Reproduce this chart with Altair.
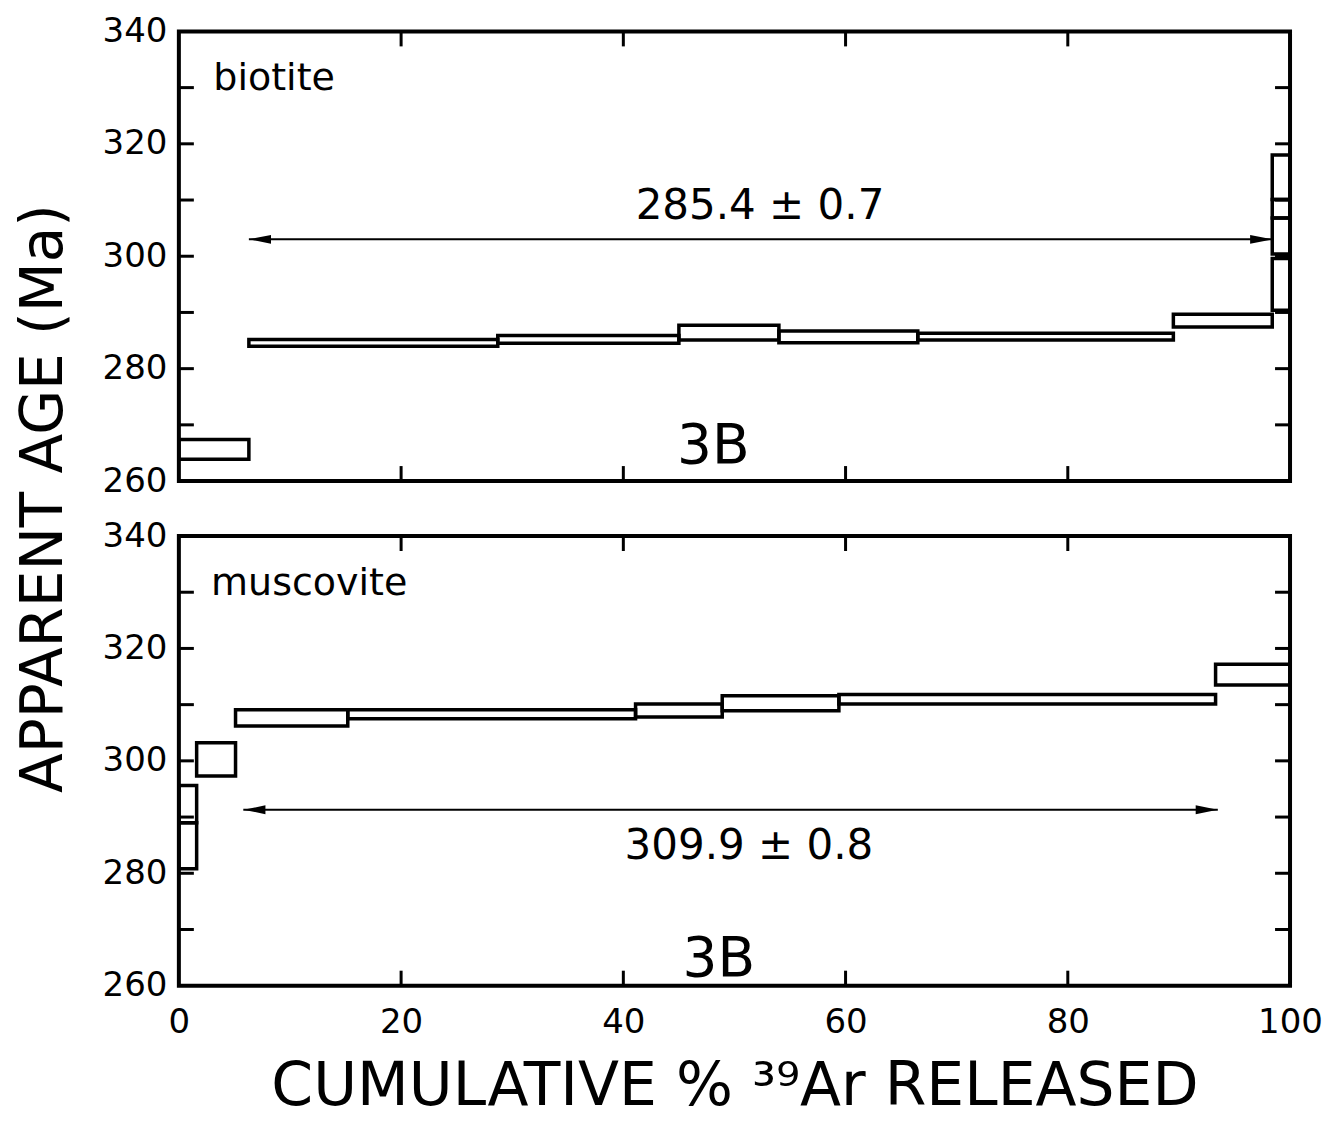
import altair as alt
import pandas as pd

# ---------------- data ----------------
# biotite (upper panel): heating steps, cumulative % 39Ar and age band (Ma)
bio_x0 = [0.0, 6.3, 28.7, 45.0, 54.0, 66.5, 89.5, 98.4, 98.4, 98.4, 98.4]
bio_x1 = [6.3, 28.7, 45.0, 54.0, 66.5, 89.5, 98.4, 100.0, 100.0, 100.0, 100.0]
bio_lo = [263.9, 284.0, 284.5, 285.1, 284.6, 285.1, 287.4, 290.4, 300.4, 306.8, 310.1]
bio_hi = [267.4, 285.2, 285.9, 287.7, 286.7, 286.3, 289.7, 299.6, 306.8, 310.1, 318.0]

# muscovite (lower panel)
mus_x0 = [0.0, 0.0, 1.6, 5.1, 15.2, 41.1, 48.9, 59.4, 93.3]
mus_x1 = [1.6, 1.6, 5.1, 15.2, 41.1, 48.9, 59.4, 93.3, 100.0]
mus_lo = [280.8, 289.0, 297.3, 306.2, 307.5, 307.8, 308.9, 310.1, 313.5]
mus_hi = [289.0, 295.6, 303.2, 309.1, 309.1, 310.1, 311.6, 311.8, 317.2]

# plateau arrows (tip positions) and plateau ages
bio_arrow = {"x0": 6.3, "x1": 98.4, "y": 303.0}
mus_arrow = {"x0": 5.8, "x1": 93.5, "y": 291.3}
bio_age_text = "285.4 ± 0.7"
mus_age_text = "309.9 ± 0.8"
bio_age_pos = (52.3, 308.9)
mus_age_pos = (51.3, 284.9)
sample_label = "3B"
bio_sample_pos = (48.1, 266.2)
mus_sample_pos = (48.6, 264.8)
bio_name, bio_name_pos = "biotite", (3.1, 331.6)
mus_name, mus_name_pos = "muscovite", (2.9, 331.5)

x_tick_values = [0, 20, 40, 60, 80, 100]
y_tick_values = [260, 280, 300, 320, 340]
x_inner_ticks = [20, 40, 60, 80]
y_inner_ticks = [270, 280, 290, 300, 310, 320, 330]

x_title = "CUMULATIVE % ³⁹Ar RELEASED"
y_title = "APPARENT AGE (Ma)"

# ---------------- layout ----------------
W, H = 1112, 450
TICK = 15
FONT = "DejaVu Sans"

xscale = alt.Scale(domain=[0, 100], nice=False, zero=False)
yscale = alt.Scale(domain=[260, 340], nice=False, zero=False)


def make_panel(x0, x1, lo, hi, arrow, age_text, age_pos, sample_pos,
               name, name_pos, bottom):
    if bottom:
        xaxis = alt.Axis(values=x_tick_values, ticks=False, domain=False,
                         labelFontSize=34, labelFont=FONT, labelColor="black",
                         labelPadding=20, labelFlush=False, format="d",
                         title=x_title, titleFont=FONT, titleFontSize=60,
                         titleFontWeight="normal", titleColor="black",
                         titlePadding=18)
        yaxis = alt.Axis(values=y_tick_values, ticks=False, domain=False,
                         labelFontSize=34, labelFont=FONT, labelColor="black",
                         labelPadding=12, labelFlush=False, format="d",
                         title="")
    else:
        xaxis = alt.Axis(values=x_tick_values, ticks=False, domain=False,
                         labels=False, title="")
        yaxis = alt.Axis(values=y_tick_values, ticks=False, domain=False,
                         labelFontSize=34, labelFont=FONT, labelColor="black",
                         labelPadding=12, labelFlush=False, format="d",
                         title=y_title, titleFont=FONT, titleFontSize=58,
                         titleFontWeight="normal", titleColor="black",
                         titleX=-134, titleY=467, titleAngle=270,
                         titleAlign="center", titleBaseline="middle")

    def X(f):
        return alt.X(f, type="quantitative", scale=xscale, axis=xaxis)

    def Y(f):
        return alt.Y(f, type="quantitative", scale=yscale, axis=yaxis)

    steps = pd.DataFrame({"x0": x0, "x1": x1, "lo": lo, "hi": hi})
    rects = alt.Chart(steps).mark_rect(
        fill="white", fillOpacity=0, stroke="black", strokeWidth=3.5
    ).encode(x=X("x0"), x2="x1", y=Y("lo"), y2="hi")

    arr = pd.DataFrame([arrow])
    line = alt.Chart(arr).mark_rule(color="black", strokeWidth=2).encode(
        x=X("x0"), x2="x1", y=Y("y"))
    heads = pd.DataFrame({
        "x": [arrow["x0"] + 1.0, arrow["x1"] - 1.0],
        "y": [arrow["y"], arrow["y"]],
        "dir": ["left", "right"],
    })
    head_l = alt.Chart(heads[heads.dir == "left"]).mark_point(
        shape="M-1,0 L1,-0.4 L1,0.4 Z", filled=True, color="black",
        size=484, opacity=1).encode(x=X("x"), y=Y("y"))
    head_r = alt.Chart(heads[heads.dir == "right"]).mark_point(
        shape="M1,0 L-1,-0.4 L-1,0.4 Z", filled=True, color="black",
        size=484, opacity=1).encode(x=X("x"), y=Y("y"))

    age = alt.Chart(pd.DataFrame({"x": [age_pos[0]], "y": [age_pos[1]],
                                  "t": [age_text]})).mark_text(
        font=FONT, fontSize=42, color="black", align="center",
        baseline="middle").encode(x=X("x"), y=Y("y"), text="t:N")
    sample = alt.Chart(pd.DataFrame({"x": [sample_pos[0]], "y": [sample_pos[1]],
                                     "t": [sample_label]})).mark_text(
        font=FONT, fontSize=55, color="black", align="center",
        baseline="middle").encode(x=X("x"), y=Y("y"), text="t:N")
    nm = alt.Chart(pd.DataFrame({"x": [name_pos[0]], "y": [name_pos[1]],
                                 "t": [name]})).mark_text(
        font=FONT, fontSize=38, color="black", align="left",
        baseline="middle").encode(x=X("x"), y=Y("y"), text="t:N")

    # inward tick marks on all four sides
    yt = pd.DataFrame({"v": y_inner_ticks})
    xt = pd.DataFrame({"v": x_inner_ticks})
    tl = alt.Chart(yt).mark_rule(color="black", strokeWidth=3).encode(
        y=Y("v"), x=alt.value(0), x2=alt.value(TICK))
    tr = alt.Chart(yt).mark_rule(color="black", strokeWidth=3).encode(
        y=Y("v"), x=alt.value(W - TICK), x2=alt.value(W))
    tt = alt.Chart(xt).mark_rule(color="black", strokeWidth=3).encode(
        x=X("v"), y=alt.value(0), y2=alt.value(TICK))
    tb = alt.Chart(xt).mark_rule(color="black", strokeWidth=3).encode(
        x=X("v"), y=alt.value(H - TICK), y2=alt.value(H))

    return alt.layer(rects, line, head_l, head_r, age, sample, nm,
                     tl, tr, tt, tb).properties(width=W, height=H)


top = make_panel(bio_x0, bio_x1, bio_lo, bio_hi, bio_arrow, bio_age_text,
                 bio_age_pos, bio_sample_pos, bio_name, bio_name_pos, False)
bottom = make_panel(mus_x0, mus_x1, mus_lo, mus_hi, mus_arrow, mus_age_text,
                    mus_age_pos, mus_sample_pos, mus_name, mus_name_pos, True)

chart = alt.vconcat(top, bottom, spacing=55, bounds="flush").properties(
    padding={"left": 5, "top": 4, "right": 5, "bottom": 2},
    background="white",
).configure_view(
    stroke="black", strokeWidth=4
).configure_axis(grid=False)

chart.save("out.html", embed_options={"renderer": "svg", "actions": False})
